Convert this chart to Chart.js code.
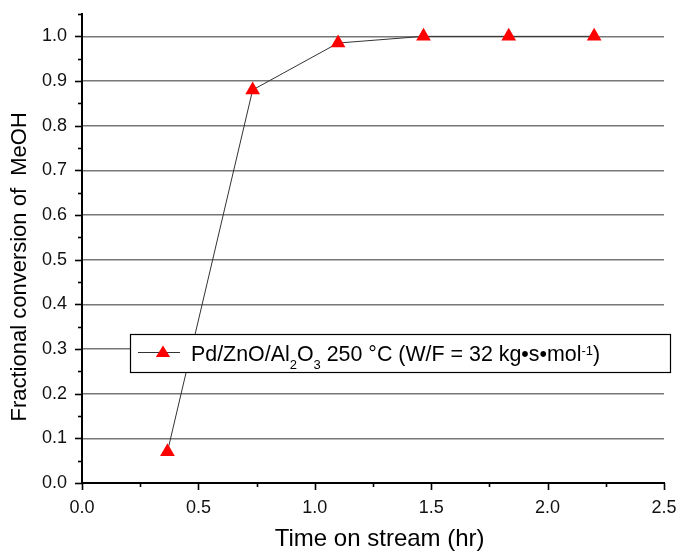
<!DOCTYPE html>
<html lang="en">
<head>
<meta charset="UTF-8" />
<title>Fractional conversion of MeOH</title>
<script src="https://cdn.jsdelivr.net/npm/chart.js"></script>
<style>
  html, body { margin: 0; padding: 0; background: #fff; }
  #wrap { width: 678px; height: 551px; }
</style>
</head>
<body>
<div id="wrap"><canvas id="conv"></canvas></div>
<script>
  // data
  const timeHr = [0.367, 0.733, 1.1, 1.467, 1.833, 2.2];
  const conversion = [0.07, 0.88, 0.985, 1.0, 1.0, 1.0];
  const xTicks = [0, 0.5, 1.0, 1.5, 2.0, 2.5];
  const yTicks = [0, 0.1, 0.2, 0.3, 0.4, 0.5, 0.6, 0.7, 0.8, 0.9, 1.0];
  // padded with spaces so the centred titles sit where Origin put them
  const xTitle = "  Time on stream (hr)";
  const yTitle = "Fractional conversion of  MeOH      ";
  // legend text in pieces: normal / subscript / superscript
  const legendParts = [
    ["Pd/ZnO/Al", 0], ["2", -1], ["O", 0], ["3", -1],
    [" 250 °C (W/F = 32 kg•s•mol", 0], ["-1", 1], [")", 0]
  ];

  const FONT = "'Liberation Sans', Arial, sans-serif";

  // outward major + minor tick marks (Origin style)
  const axisTicks = {
    id: "axisTicks",
    afterDraw(chart) {
      const { ctx, chartArea: a, scales: { x, y } } = chart;
      ctx.save();
      ctx.strokeStyle = "#000";
      ctx.lineWidth = 1.6;
      for (let i = 0; i <= 10; i++) {
        const px = Math.round(x.getPixelForValue(i * 0.25)) + 0.5;
        ctx.beginPath();
        ctx.moveTo(px, a.bottom);
        ctx.lineTo(px, a.bottom + (i % 2 === 0 ? 7 : 4));
        ctx.stroke();
      }
      for (let i = 0; i <= 21; i++) {
        const py = Math.round(y.getPixelForValue(i * 0.05)) + 0.5;
        ctx.beginPath();
        ctx.moveTo(a.left, py);
        ctx.lineTo(a.left - (i % 2 === 0 ? 7 : 4), py);
        ctx.stroke();
      }
      ctx.restore();
    }
  };

  // boxed legend with sub/superscripts, sits on top of the data line
  const richLegend = {
    id: "richLegend",
    afterDatasetsDraw(chart) {
      const { ctx, chartArea: a } = chart;
      const left = a.left + 48, top = a.top + 320, right = a.right + 6, bottom = a.top + 358;
      ctx.save();
      ctx.fillStyle = "#fff";
      ctx.fillRect(left, top, right - left, bottom - top);
      ctx.strokeStyle = "#000";
      ctx.lineWidth = 1.2;
      ctx.strokeRect(left + 0.5, top + 0.5, right - left, bottom - top);

      const midY = top + 18;
      ctx.strokeStyle = "#333";
      ctx.lineWidth = 1;
      ctx.beginPath();
      ctx.moveTo(left + 8, midY + 0.5);
      ctx.lineTo(left + 50, midY + 0.5);
      ctx.stroke();
      const cx = left + 33, r = 6.5;
      ctx.fillStyle = "#ff0000";
      ctx.beginPath();
      ctx.moveTo(cx, midY - r);
      ctx.lineTo(cx + r * 1.1, midY + r * 0.75);
      ctx.lineTo(cx - r * 1.1, midY + r * 0.75);
      ctx.closePath();
      ctx.fill();

      let tx = left + 61;
      const base = top + 27;
      ctx.fillStyle = "#000";
      ctx.textBaseline = "alphabetic";
      for (const [t, kind] of legendParts) {
        if (kind === 0) {
          ctx.font = "21.4px " + FONT;
          ctx.fillText(t, tx, base);
        } else if (kind < 0) {
          ctx.font = "13px " + FONT;
          ctx.fillText(t, tx, base + 8);
        } else {
          ctx.font = "13px " + FONT;
          ctx.fillText(t, tx, base - 6.5);
        }
        tx += ctx.measureText(t).width;
      }
      ctx.restore();
    }
  };

  const ctx = document.getElementById("conv").getContext("2d");
  new Chart(ctx, {
    type: "line",
    data: {
      datasets: [{
        label: "Pd/ZnO/Al2O3 250 °C",
        data: timeHr.map((t, i) => ({ x: t, y: conversion[i] })),
        borderColor: "#333",
        borderWidth: 1,
        pointStyle: "triangle",
        pointRadius: 8.5,
        pointHoverRadius: 8.5,
        pointBackgroundColor: "#ff0000",
        pointBorderColor: "#ff0000",
        pointBorderWidth: 0,
        tension: 0
      }]
    },
    options: {
      responsive: true,
      maintainAspectRatio: false,
      animation: false,
      layout: { padding: { left: 0, top: 14, right: 14, bottom: 0 } },
      plugins: {
        legend: { display: false },
        tooltip: { enabled: false }
      },
      scales: {
        x: {
          type: "linear",
          min: 0,
          max: 2.5,
          afterBuildTicks: s => { s.ticks = xTicks.map(v => ({ value: v })); },
          afterFit: s => { s.height = 68; s.paddingLeft = 0; s.paddingRight = 0; },
          grid: { drawOnChartArea: false, drawTicks: false },
          border: { color: "#000", width: 2 },
          ticks: {
            padding: 14,
            color: "#111",
            font: { family: FONT, size: 18 },
            callback: v => Number(v).toFixed(1)
          },
          title: {
            display: true,
            text: xTitle,
            color: "#000",
            font: { family: FONT, size: 24, lineHeight: 1.0 },
            padding: { top: 0, bottom: 0 }
          }
        },
        y: {
          type: "linear",
          min: 0,
          max: 1.05,
          afterBuildTicks: s => { s.ticks = yTicks.map(v => ({ value: v })); },
          afterFit: s => { s.width = 82; s.paddingTop = 0; s.paddingBottom = 0; },
          grid: {
            drawTicks: false,
            color: c => (c.tick && c.tick.value > 0 ? "#777" : "rgba(0,0,0,0)"),
            lineWidth: 1.4
          },
          border: { color: "#000", width: 2 },
          ticks: {
            padding: 15,
            color: "#111",
            font: { family: FONT, size: 18 },
            callback: v => Number(v).toFixed(1)
          },
          title: {
            display: true,
            text: yTitle,
            color: "#000",
            font: { family: FONT, size: 22 },
            padding: { top: 7, bottom: 0 }
          }
        }
      }
    },
    plugins: [axisTicks, richLegend]
  });
</script>
</body>
</html>
